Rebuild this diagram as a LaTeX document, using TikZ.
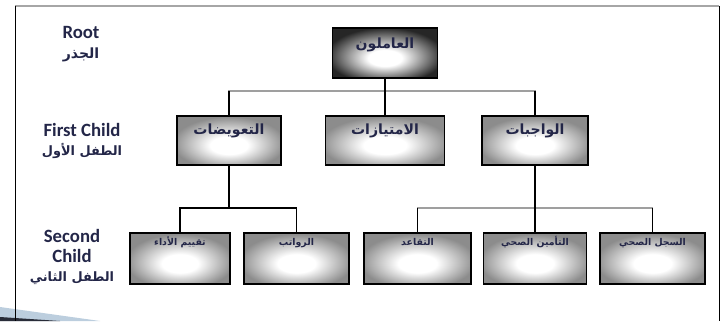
\documentclass[tikz,border=0pt]{standalone}
\usepackage{fontspec}
\setmainfont{Carlito}
\newfontfamily\arabicfont[Script=Arabic]{DejaVu Sans}
\TeXXeTstate=1
\usepackage{tikz}
\usetikzlibrary{positioning, calc}
\definecolor{levelnavy}{RGB}{35, 38, 72}
\definecolor{slideblue}{RGB}{188, 206, 222}
\definecolor{slidedark}{RGB}{40, 44, 56}
\newcommand{\arabtext}[1]{{\arabicfont\beginR #1\endR}}
\pgfdeclareradialshading{boxglow}{\pgfpoint{0bp}{-6bp}}{color(0bp)=(white); color(9bp)=(white); color(27bp)=(black!45); color(50bp)=(black!45)}
\pgfdeclareradialshading{rootglow}{\pgfpoint{0bp}{-6bp}}{color(0bp)=(white); color(8bp)=(white); color(28bp)=(black!85); color(50bp)=(black!85)}

\begin{document}
\begin{tikzpicture}[
    x=0.03cm, y=-0.03cm,
    box/.style={rectangle, draw=black, line width=1.1pt, inner sep=0pt,
                shading=boxglow, minimum width=#1, minimum height=1.47cm},
    rootbox/.style={box=#1, shading=rootglow, minimum height=1.5cm},
    leafbox/.style={box=#1, minimum height=1.53cm},
    boxtext/.style={anchor=base, yshift=-16pt, inner sep=0pt, text=levelnavy,
                    font=\fontsize{12}{14}\selectfont\bfseries},
    leaftext/.style={boxtext, yshift=5pt, font=\fontsize{8}{9}\selectfont\bfseries},
    levelname/.style={align=center, text=levelnavy, font=\fontsize{16}{17}\selectfont\bfseries},
    link/.style={draw=black, line width=1pt},
    bus/.style={draw=gray!75, line width=1.4pt}
]
    % slide frame
    \fill[slideblue] (0,307) -- (100,321) -- (0,321) -- cycle;
    \fill[slidedark] (0,317) -- (60,321) -- (0,321) -- cycle;
    \draw[gray!70, line width=1.5pt] (15,6) -- (719,6);
    \draw[line width=0.8pt] (15,6) -- (15,321);
    \draw[line width=0.8pt] (719,6) -- (719,321);

    % level names
    \node[levelname] (rootname) at (81,44) {Root\\\arabtext{\fontsize{12}{12}\selectfont الجذر}};
    \node[levelname] (firstname) at (82,141) {First Child\\\arabtext{\fontsize{11}{11}\selectfont الطفل الأول}};
    \node[levelname] (secondname) at (72,257) {Second\\Child\\\arabtext{\fontsize{11}{11}\selectfont الطفل الثاني}};

    % tree
    \node[rootbox=3.15cm] (staff) at (385,53) {};
    \node[boxtext, yshift=-2pt] at (staff.north) {\arabtext{العاملون}};

    \node[box=3.12cm] (comp) at (229,140.5) {};
    \node[boxtext] at (comp.north) {\arabtext{التعويضات}};
    \node[box=3.57cm] (perks) at (385,140.5) {};
    \node[boxtext] at (perks.north) {\arabtext{الامتيازات}};
    \node[box=3.18cm] (duties) at (535,140.5) {};
    \node[boxtext] at (duties.north) {\arabtext{الواجبات}};

    \node[leafbox=3cm] (appraisal) at (180,258.5) {};
    \node[leaftext] at (appraisal.north) {\arabtext{تقييم الأداء}};
    \node[leafbox=3.15cm] (salaries) at (296.5,258.5) {};
    \node[leaftext] at (salaries.north) {\arabtext{الرواتب}};
    \node[leafbox=3.21cm] (retire) at (417.5,258.5) {};
    \node[leaftext] at (retire.north) {\arabtext{التقاعد}};
    \node[leafbox=3.09cm] (insurance) at (535,258.5) {};
    \node[leaftext] at (insurance.north) {\arabtext{التأمين الصحي}};
    \node[leafbox=3.15cm] (records) at (652.5,258.5) {};
    \node[leaftext] at (records.north) {\arabtext{السجل الصحي}};

    \coordinate (busA) at (385,91);
    \coordinate (busB) at (229,208);
    \coordinate (busC) at (535,208);

    \draw[bus] (comp.north) |- (busA) -| (duties.north);
    \draw[link] (staff.south) -- (perks.north);
    \draw[link] (comp.north) -- (comp.north |- busA);
    \draw[link] (duties.north) -- (duties.north |- busA);

    \draw[link] (comp.south) -- (busB);
    \draw[link] (appraisal.north) |- (busB) -| (salaries.north);

    \draw[bus] (retire.north) |- (busC) -| (records.north);
    \draw[link] (retire.north) -- (retire.north |- busC);
    \draw[link] (records.north) -- (records.north |- busC);
    \draw[link] (duties.south) -- (insurance.north);

    \useasboundingbox (0,0) rectangle (725,321);
\end{tikzpicture}
\end{document}
